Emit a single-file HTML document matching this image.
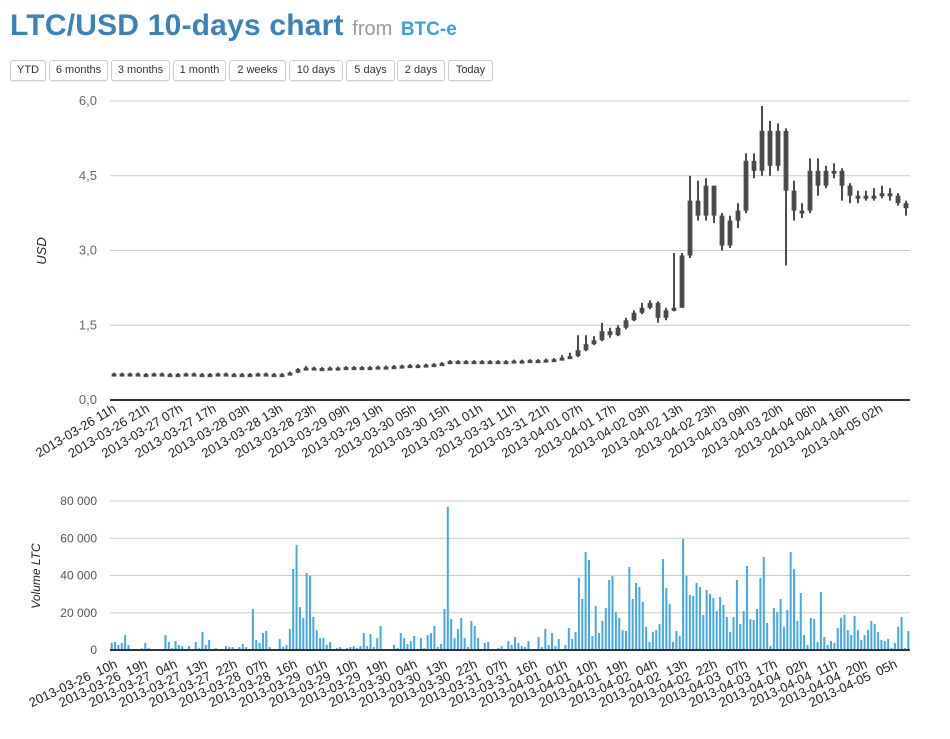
<!DOCTYPE html>
<html><head><meta charset="utf-8"><style>
body{margin:0;background:#fff;width:950px;height:739px;overflow:hidden;font-family:"Liberation Sans",Arial,sans-serif;position:relative}
h1{position:absolute;left:10px;top:9px;margin:0;font-size:30px;font-weight:bold;color:#3a82b8;white-space:nowrap;letter-spacing:0.2px}
h1 .from{font-size:20px;font-weight:normal;color:#999;letter-spacing:0}
h1 .src{font-size:19px;color:#3ba0d9;letter-spacing:0}
.btn{position:absolute;top:60px;height:19px;border:1px solid #ccc;border-radius:3px;font-size:11px;line-height:19px;text-align:center;color:#333;background:#fff;box-shadow:0 1px 1px rgba(0,0,0,.08)}
svg{position:absolute;left:0;top:0}
</style></head><body>
<h1>LTC/USD 10-days chart <span class="from">from</span> <span class="src">BTC-e</span></h1>
<div class="btn" style="left:10px;width:34px">YTD</div>
<div class="btn" style="left:49px;width:57px">6 months</div>
<div class="btn" style="left:111px;width:57px">3 months</div>
<div class="btn" style="left:173px;width:51px">1 month</div>
<div class="btn" style="left:229px;width:55px">2 weeks</div>
<div class="btn" style="left:289px;width:52px">10 days</div>
<div class="btn" style="left:346px;width:47px">5 days</div>
<div class="btn" style="left:397px;width:46px">2 days</div>
<div class="btn" style="left:448px;width:43px">Today</div>
<svg id="chart" width="950" height="739"></svg>
<script>
const priceTicks=[0,1.5,3,4.5,6];
const priceTickLabels=["0,0","1,5","3,0","4,5","6,0"];
const volTicks=[0,20000,40000,60000,80000];
const volTickLabels=["0","20 000","40 000","60 000","80 000"];
const topXLabels=["2013-03-26 11h","2013-03-26 21h","2013-03-27 07h","2013-03-27 17h","2013-03-28 03h","2013-03-28 13h","2013-03-28 23h","2013-03-29 09h","2013-03-29 19h","2013-03-30 05h","2013-03-30 15h","2013-03-31 01h","2013-03-31 11h","2013-03-31 21h","2013-04-01 07h","2013-04-01 17h","2013-04-02 03h","2013-04-02 13h","2013-04-02 23h","2013-04-03 09h","2013-04-03 20h","2013-04-04 06h","2013-04-04 16h","2013-04-05 02h"];
const botXLabels=["2013-03-26  10h","2013-03-26  19h","2013-03-27  04h","2013-03-27  13h","2013-03-27  22h","2013-03-28  07h","2013-03-28  16h","2013-03-29  01h","2013-03-29  10h","2013-03-29  19h","2013-03-30  04h","2013-03-30  13h","2013-03-30  22h","2013-03-31  07h","2013-03-31  16h","2013-04-01  01h","2013-04-01  10h","2013-04-01  19h","2013-04-02  04h","2013-04-02  13h","2013-04-02  22h","2013-04-03  07h","2013-04-03  17h","2013-04-04  02h","2013-04-04  11h","2013-04-04  20h","2013-04-05  05h"];
const closes=[0.53,0.52,0.53,0.52,0.52,0.53,0.52,0.52,0.52,0.53,0.52,0.52,0.52,0.53,0.52,0.52,0.52,0.52,0.53,0.52,0.52,0.52,0.55,0.62,0.65,0.64,0.64,0.65,0.65,0.66,0.65,0.66,0.66,0.67,0.67,0.68,0.69,0.70,0.70,0.71,0.72,0.74,0.78,0.77,0.78,0.77,0.78,0.78,0.77,0.78,0.79,0.79,0.80,0.80,0.81,0.82,
0.85,0.88,1.0,1.12,1.2,1.38,1.3,1.45,1.6,1.75,1.85,1.95,1.65,1.8,1.85,2.9,4.0,3.7,4.3,3.7,3.1,3.6,3.8,4.8,4.6,5.4,4.7,5.4,4.2,3.8,3.8,4.6,4.3,4.6,4.6,4.3,4.1,4.05,4.1,4.1,4.15,4.1,3.95,3.85];
const opens=[0.52,0.53,0.52,0.53,0.52,0.52,0.53,0.52,0.52,0.52,0.53,0.52,0.52,0.52,0.53,0.52,0.52,0.52,0.52,0.53,0.52,0.52,0.52,0.55,0.62,0.65,0.64,0.64,0.65,0.65,0.66,0.65,0.66,0.66,0.67,0.67,0.68,0.69,0.70,0.70,0.71,0.72,0.74,0.78,0.77,0.78,0.77,0.78,0.78,0.77,0.78,0.79,0.79,0.80,0.80,0.81,
0.82,0.85,0.88,1.0,1.12,1.2,1.38,1.3,1.45,1.6,1.75,1.85,1.95,1.65,1.8,1.85,2.9,4.0,3.7,4.3,3.7,3.1,3.6,3.8,4.8,4.6,5.4,4.7,5.4,4.2,3.8,3.8,4.6,4.3,4.6,4.6,4.3,4.1,4.05,4.1,4.1,4.15,4.1,3.95];
const highs=[0.55,0.55,0.55,0.55,0.54,0.55,0.55,0.54,0.54,0.55,0.55,0.54,0.54,0.55,0.55,0.54,0.54,0.54,0.55,0.55,0.54,0.54,0.57,0.64,0.68,0.67,0.66,0.67,0.67,0.68,0.68,0.68,0.68,0.69,0.69,0.70,0.71,0.72,0.72,0.73,0.74,0.76,0.80,0.80,0.80,0.80,0.80,0.80,0.80,0.80,0.81,0.81,0.82,0.82,0.83,0.84,
0.9,0.95,1.3,1.3,1.28,1.55,1.45,1.5,1.65,1.8,1.95,2.0,1.98,1.85,2.95,2.95,4.5,4.4,4.45,4.3,3.75,3.7,3.95,4.95,4.95,5.9,5.6,5.55,5.45,4.4,3.95,4.85,4.85,4.7,4.75,4.65,4.35,4.2,4.2,4.25,4.3,4.25,4.15,4.0];
const lows=[0.50,0.50,0.50,0.50,0.50,0.50,0.50,0.50,0.50,0.50,0.50,0.50,0.50,0.50,0.50,0.50,0.50,0.50,0.50,0.50,0.50,0.50,0.50,0.54,0.61,0.62,0.62,0.62,0.63,0.63,0.63,0.64,0.64,0.64,0.65,0.65,0.66,0.67,0.68,0.68,0.69,0.70,0.72,0.75,0.75,0.75,0.75,0.76,0.75,0.75,0.76,0.77,0.77,0.78,0.78,0.79,
0.8,0.83,0.86,0.98,1.1,1.18,1.25,1.28,1.42,1.58,1.72,1.82,1.55,1.6,1.78,1.85,2.85,3.6,3.6,3.55,3.0,3.05,3.45,3.75,4.45,4.5,4.5,4.6,2.7,3.6,3.65,3.75,4.1,4.25,4.45,4.0,3.95,3.95,4.0,4.0,4.05,4.0,3.9,3.7];
const volumesK=[3.8,4.3,2.7,3.8,8,2.7,0.4,0.5,0.4,0.9,3.8,1,0,0,0.5,0.5,8,4.3,1,4.8,2.7,2.1,0.5,2.1,0.5,4.3,1,9.7,2.7,5.4,0,1,0.5,0,2.1,1.6,1.6,0,1.6,3.2,1.6,0,22,5.4,3.8,9.1,10.2,1.6,0,0,5.9,1.6,2.7,11.3,43.5,56.4,23,17.2,41.3,39.7,17.7,10.7,6.4,6.4,2.7,4.3,0.4,1,1.6,0,1,1.6,2.1,1,2.1,9.1,2.1,8.6,1.6,6.4,12.9,0,0.5,0,2.7,1,9.1,6.4,3.2,4.8,7.5,0.4,6.4,1,8,9.1,12.9,1.6,3.2,22,76.8,16.6,6.4,11.3,17.2,6.4,1.6,15.6,12.9,6.4,0.4,3.8,4.3,0,0.5,1,2.1,0,4.8,2.7,7,3.8,
2.1,1.6,4.8,0.5,0.4,7.0,1.6,11.3,2.7,9.1,2.1,5.9,0.5,2.7,11.8,5.9,9.7,38.7,27.4,52.6,48.3,7.5,23.6,9.1,15.6,22.6,37.6,39.7,20.4,17.2,10.7,10.2,44.6,27.4,36,33.8,25.8,12.4,4.3,9.7,10.7,14,48.9,33.3,24.7,4.3,10.2,7.5,59.6,39.7,29.5,29,36,33.8,18.8,32.2,30.1,27.9,20.9,28.5,24.2,17.7,9.7,17.7,37.6,14,20.9,45.1,16.6,16.1,22,38.7,49.9,14.5,2.1,22.6,20.4,27.4,12.4,21.5,52.6,43.5,15.6,30.6,8,2.7,17.2,16.6,4.3,31.1,7,2.7,4.8,3.8,11.8,17.2,18.8,10.7,8,18.3,10.7,5.4,8,10.7,15.6,14,9.7,5.4,4.8,5.9,1,3.8,12.4,17.7,1,10.2];

const NS='http://www.w3.org/2000/svg';
const svg=document.getElementById('chart');
function mk(tag,attrs,parent){const e=document.createElementNS(NS,tag);for(const k in attrs)e.setAttribute(k,attrs[k]);(parent||svg).appendChild(e);return e;}
const X0=110,X1=910;
const pY=v=>400-v/6*299;
const vY=v=>650-v/80000*149;
const cX=i=>X0+(i+0.5)*(X1-X0)/closes.length;
const bX=i=>X0+(i+0.5)*(X1-X0)/volumesK.length;

priceTicks.forEach((t,i)=>{
  if(t>0){const g=mk('line',{x1:X0,x2:X1,y1:pY(t),y2:pY(t),stroke:'#ccc','stroke-width':1});
  
  }
  const l=mk('text',{x:97,y:pY(t)+4,'text-anchor':'end','font-size':13,fill:'#666'});
  l.textContent=priceTickLabels[i];
  
  
});
const cw=(X1-X0)/closes.length;
closes.forEach((c,i)=>{
  const x=cX(i);
  const w=mk('line',{x1:x,x2:x,y1:pY(highs[i]),y2:pY(lows[i]),stroke:'#4a4a4a','stroke-width':2});
  
  
  const top=Math.min(pY(opens[i]),pY(c)),h=Math.max(3,Math.abs(pY(opens[i])-pY(c)));
  const r=mk('rect',{x:x-cw*0.3,y:top,width:cw*0.6,height:h,fill:'#4a4a4a'});
  
  
});
const pa=mk('line',{x1:X0,x2:X1,y1:400,y2:400,stroke:'#333','stroke-width':2});


topXLabels.forEach((s,i)=>{
  const x=117+i*33.33,y=411;
  const t=mk('text',{x:x,y:y,'text-anchor':'end','font-size':13,fill:'#222',transform:`rotate(-31 ${x} ${y})`});
  t.textContent=s;
  
  
});
const ut=mk('text',{x:46,y:251,'text-anchor':'middle','font-size':13,'font-style':'italic',fill:'#222',transform:'rotate(-90 46 251)'});
ut.textContent='USD';



volTicks.forEach((t,i)=>{
  if(t>0){const g=mk('line',{x1:X0,x2:X1,y1:vY(t),y2:vY(t),stroke:'#ccc','stroke-width':1});
  
  }
  const l=mk('text',{x:97,y:vY(t)+4,'text-anchor':'end','font-size':12,fill:'#555'});
  l.textContent=volTickLabels[i];
  
  
});
volumesK.forEach((v,i)=>{
  const y=vY(v*1000);
  const r=mk('rect',{x:bX(i)-1,y:y,width:2,height:650-y,fill:'#45a8e6'});
  
  
});
const va=mk('line',{x1:X0,x2:X1,y1:650,y2:650,stroke:'#333','stroke-width':2});


botXLabels.forEach((s,i)=>{
  const x=118+i*30,y=667;
  const t=mk('text',{x:x,y:y,'text-anchor':'end','font-size':13,fill:'#222',transform:`rotate(-25 ${x} ${y})`});
  t.setAttribute('style','white-space:pre');
  t.textContent=s;
  
  
});
const vt=mk('text',{x:40,y:576,'text-anchor':'middle','font-size':12,'font-style':'italic',fill:'#222',transform:'rotate(-90 40 576)'});
vt.textContent='Volume LTC';


</script>
</body></html>
